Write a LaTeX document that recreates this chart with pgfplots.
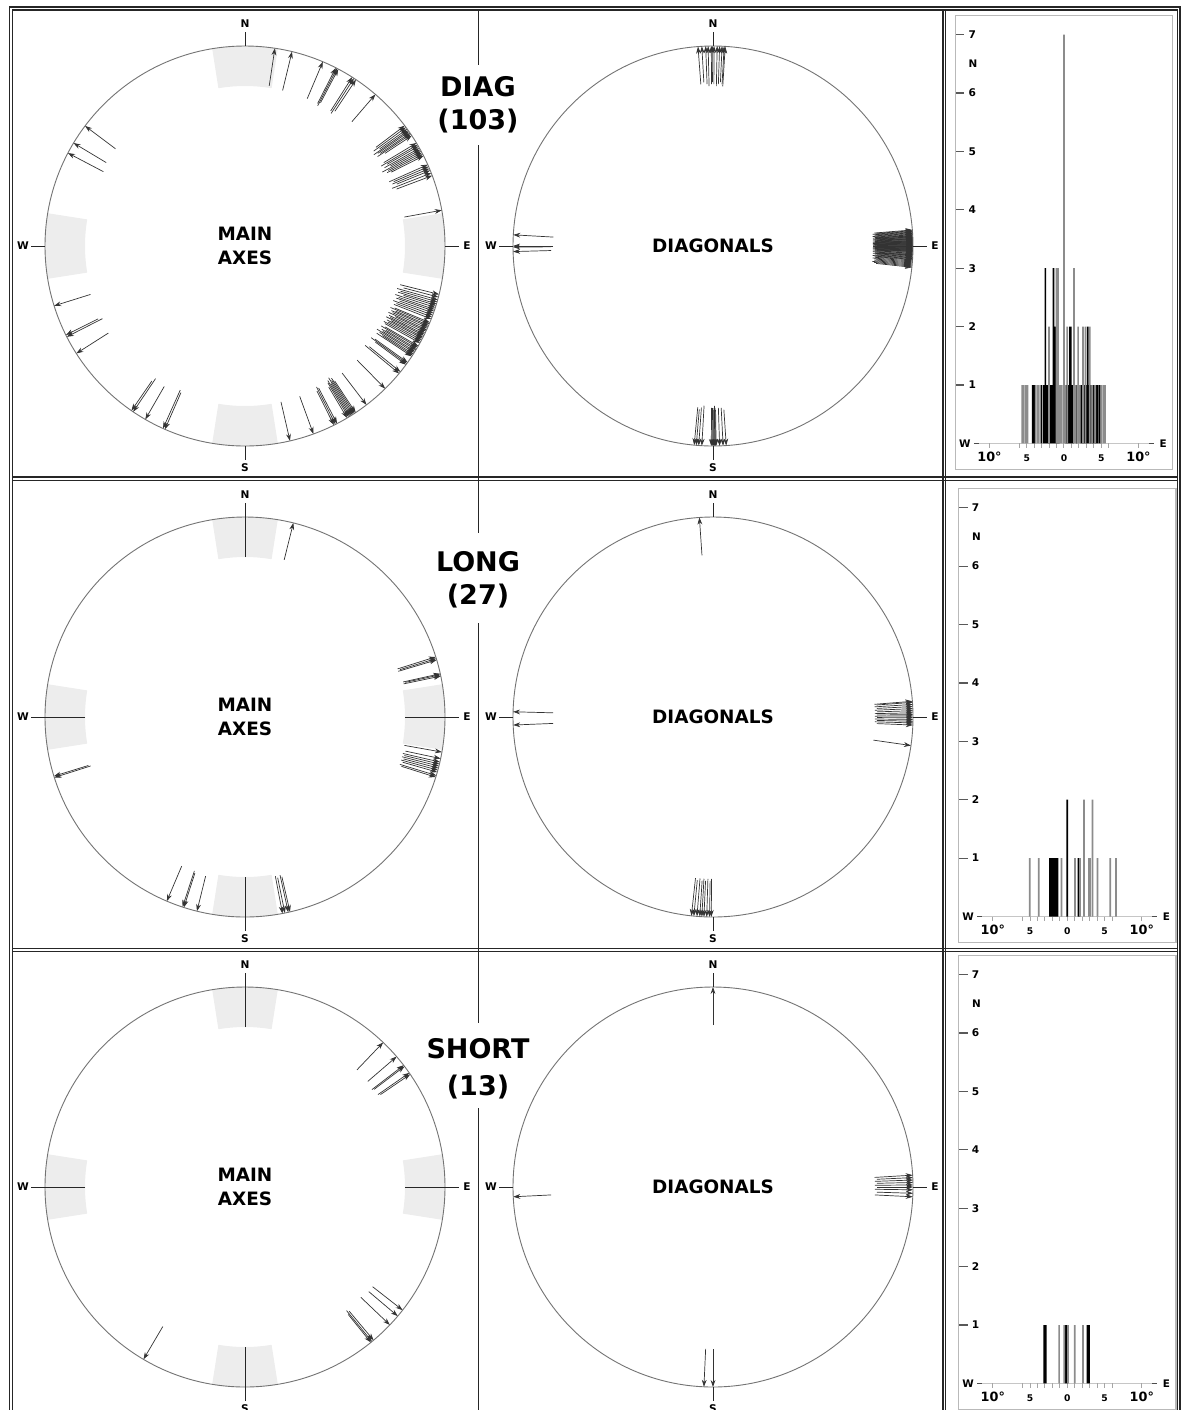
\documentclass[border=0pt]{standalone}
\usepackage{pgfplots}
\pgfplotsset{compat=1.18}
\usepackage{pgfplotstable}
\usetikzlibrary{arrows.meta}
\usepackage{fontspec}
\setmainfont{DejaVu Sans}

\newcommand{\cfont}{\fontsize{5.3}{6}\selectfont\bfseries}
\newcommand{\lfont}{\fontsize{9.2}{11}\selectfont\bfseries}
\newcommand{\tfont}{\fontsize{13.5}{16}\selectfont\bfseries}
\newcommand{\hfont}{\fontsize{5.2}{6}\selectfont\bfseries}
\newcommand{\hbig}{\fontsize{6.4}{7}\selectfont\bfseries}
\newcommand{\hsmall}{\fontsize{4.6}{5}\selectfont\bfseries}

% ---------- arrows: head angle t (deg) on the unit circle, length L ----------
\pgfplotstableread{
t L
81.4 0.19
76.4 0.20
67.1 0.20
63.0 0.20
62.6 0.21
62.2 0.19
57.6 0.20
57.0 0.21
56.3 0.19
49.3 0.18
37.0 0.18
36.4 0.20
35.8 0.17
35.3 0.21
34.9 0.19
34.4 0.18
34.0 0.20
33.5 0.16
31.0 0.19
30.4 0.21
29.9 0.18
29.3 0.20
28.8 0.17
28.3 0.22
27.8 0.19
27.3 0.20
26.8 0.18
24.0 0.21
23.4 0.19
22.8 0.20
22.2 0.18
21.4 0.21
20.6 0.19
10.3 0.19
-14.0 0.20
-14.8 0.18
-15.6 0.21
-16.2 0.19
-16.8 0.20
-17.3 0.17
-17.9 0.21
-18.5 0.19
-19.0 0.20
-19.6 0.18
-20.2 0.21
-20.8 0.19
-21.4 0.20
-22.5 0.19
-22.9 0.21
-23.4 0.18
-23.8 0.20
-24.3 0.19
-24.8 0.21
-25.2 0.17
-25.7 0.20
-26.2 0.19
-26.6 0.21
-27.1 0.18
-27.5 0.20
-28.0 0.19
-28.5 0.21
-29.0 0.20
-30.0 0.19
-30.4 0.21
-30.9 0.18
-31.3 0.20
-31.8 0.19
-32.2 0.22
-32.7 0.20
-33.1 0.18
-33.5 0.21
-35.6 0.20
-36.0 0.22
-36.4 0.19
-39.0 0.20
-39.6 0.22
-45.5 0.20
-52.6 0.20
-56.4 0.19
-56.8 0.21
-57.2 0.20
-57.6 0.22
-58.0 0.19
-58.4 0.21
-58.8 0.20
-59.3 0.18
-62.6 0.20
-63.1 0.21
-63.6 0.19
-70.0 0.20
-77.0 0.20
-113.6 0.20
-114.2 0.21
-119.9 0.19
-124.0 0.20
-124.6 0.18
-147.5 0.19
-153.0 0.20
-153.6 0.18
-162.6 0.19
152.3 0.20
149.0 0.19
143.1 0.19
}\diagmain

\pgfplotstableread{
t L
94.3 0.19
93.2 0.18
92.1 0.19
91.4 0.20
90.5 0.19
90.2 0.18
89.7 0.19
88.8 0.20
88.1 0.19
87.4 0.18
86.8 0.19
86.5 0.20
-95.4 0.19
-94.8 0.18
-94.1 0.19
-93.2 0.20
-90.5 0.19
-90.2 0.19
-89.9 0.18
-89.7 0.19
-89.5 0.20
-89.3 0.19
-89.1 0.18
-88.1 0.19
-87.1 0.19
-86.2 0.18
176.8 0.20
180.0 0.20
180.3 0.19
181.6 0.19
4.6 0.19
4.4 0.18
4.2 0.20
4.0 0.19
3.8 0.19
3.6 0.18
3.4 0.20
3.2 0.19
3.0 0.19
2.9 0.18
2.8 0.20
2.6 0.19
2.5 0.19
2.4 0.18
2.2 0.20
2.1 0.19
2.0 0.19
1.9 0.18
1.8 0.20
1.6 0.19
1.5 0.19
1.4 0.18
1.3 0.20
1.2 0.19
1.1 0.19
1.0 0.18
0.9 0.20
0.8 0.19
0.7 0.19
0.6 0.18
0.5 0.20
0.4 0.19
0.3 0.19
0.2 0.18
0.1 0.20
0.0 0.19
0.0 0.18
-0.1 0.19
-0.2 0.20
-0.3 0.19
-0.4 0.18
-0.5 0.19
-0.6 0.20
-0.7 0.19
-0.8 0.18
-0.9 0.19
-1.0 0.20
-1.1 0.19
-1.2 0.18
-1.3 0.19
-1.4 0.20
-1.5 0.19
-1.6 0.18
-1.8 0.19
-2.0 0.20
-2.2 0.19
-2.4 0.18
-2.5 0.19
-2.6 0.20
-2.8 0.19
-3.0 0.18
-3.2 0.19
-3.4 0.20
-3.6 0.19
-3.8 0.18
-4.0 0.19
-4.3 0.20
-4.6 0.19
-4.9 0.18
-5.2 0.19
-5.5 0.20
-5.8 0.19
-6.1 0.18
}\diagdiag

\pgfplotstableread{
t L
76.0 0.19
17.5 0.20
17.0 0.19
16.6 0.20
12.5 0.19
12.2 0.18
11.8 0.19
-10.1 0.19
-12.0 0.18
-13.0 0.19
-13.6 0.18
-14.2 0.19
-14.8 0.18
-15.4 0.19
-16.0 0.18
-17.0 0.19
-17.5 0.18
-162.4 0.19
-162.8 0.18
-113.0 0.19
-108.2 0.19
-107.8 0.18
-103.9 0.18
-79.2 0.19
-78.5 0.18
-77.5 0.19
-77.0 0.18
}\longmain

\pgfplotstableread{
t L
93.9 0.19
178.5 0.20
182.3 0.20
4.5 0.19
4.2 0.18
3.6 0.19
3.0 0.18
2.4 0.19
1.8 0.18
1.2 0.19
0.7 0.18
0.3 0.19
-0.2 0.18
-0.7 0.19
-1.2 0.18
-1.7 0.19
-2.3 0.18
-8.2 0.19
-96.2 0.19
-95.5 0.18
-94.6 0.19
-93.8 0.18
-93.2 0.19
-92.6 0.18
-91.8 0.19
-91.0 0.18
-90.5 0.19
}\longdiag

\pgfplotstableread{
t L
46.3 0.19
40.7 0.19
37.5 0.20
37.1 0.19
34.8 0.19
34.3 0.18
-38.0 0.19
-40.2 0.19
-43.6 0.20
-50.0 0.19
-50.6 0.20
-51.0 0.18
-120.5 0.19
}\shortmain

\pgfplotstableread{
t L
90.0 0.19
-90.0 0.19
-92.6 0.19
182.8 0.19
3.4 0.19
2.7 0.18
2.0 0.19
1.3 0.18
0.6 0.19
0.0 0.18
-0.8 0.19
-1.8 0.18
-2.8 0.19
}\shortdiag

% ---------- histograms: deviation x (deg), count n ----------
\pgfplotstableread{
x n
-4.2 1
-4.0 1
-3.0 1
-2.7 1
-2.6 1
-2.5 3
-2.4 1
-2.3 1
-2.2 1
-2.15 1
-2.05 1
-1.9 1
-1.8 1
-1.75 1
-1.7 1
-1.65 1
-1.6 1
-1.5 1
-1.4 3
-1.35 1
-1.3 2
-1.2 2
-1.1 2
-0.9 2
-0.7 1
0.3 1
0.5 1
0.6 1
0.8 2
0.9 2
1.0 1
1.1 1
1.2 1
1.7 1
2.3 1
2.4 1
2.6 1
2.7 1
3.0 1
3.2 2
3.3 1
3.6 1
3.9 1
4.0 1
4.3 1
4.5 1
4.8 1
}\diaghk
\pgfplotstableread{
x n
-5.6 1
-5.4 1
-5.1 1
-4.9 1
-3.8 1
-3.5 1
-3.2 1
-2.0 2
-1.0 3
-0.8 3
-0.6 1
-0.5 1
-0.3 1
0.0 7
0.15 1
0.45 2
1.35 3
1.6 1
1.9 2
2.1 1
2.55 2
2.9 2
3.45 2
3.8 1
4.2 1
5.0 1
5.3 1
5.5 1
}\diaghg
\pgfplotstableread{
x n
-2.34 1
-2.25 1
-2.12 1
-1.9 1
-1.76 1
-1.65 1
-1.53 1
-1.4 1
-1.31 1
0.0 2
1.49 1
1.6 1
}\longhk
\pgfplotstableread{
x n
-5.05 1
-3.83 1
-0.77 1
1.04 1
1.71 1
2.25 2
2.9 1
3.06 1
3.38 2
4.05 1
5.77 1
6.53 1
}\longhg
\pgfplotstableread{
x n
-3.1 1
-3.0 1
-2.9 1
-0.2 1
0.0 1
2.7 1
2.8 1
2.9 1
}\shorthk
\pgfplotstableread{
x n
-1.1 1
-0.4 1
0.1 1
1.0 1
2.1 1
}\shorthg

\pgfplotsset{
  compass/.style={width=250pt,height=250pt,scale only axis,
    xmin=-1.25,xmax=1.25,ymin=-1.25,ymax=1.25,hide axis,anchor=center,clip=false},
  arr/.style={black!80,line width=0.35pt,
    quiver={u={\thisrow{L}*cos(\thisrow{t})},v={\thisrow{L}*sin(\thisrow{t})},
      every arrow/.append style={-{Stealth[length=3.5pt,width=2.4pt]}}}},
  hist/.style={width=108.77pt,height=226.88pt,scale only axis,
    xmin=-14.6,xmax=14.6,ymin=-0.44,ymax=7.33,anchor=south west,clip=false,
    axis line style={gray!55,line width=0.6pt},xtick=\empty,ytick={1,...,7},
    ytick pos=left,tick align=inside,major tick length=4.5pt,
    every tick/.style={black!65,line width=0.6pt},
    /pgf/number format/assume math mode=true,
    yticklabel style={anchor=center,xshift=8.5pt,font=\cfont}},
  kbar/.style={ybar,bar width=0.85pt,bar shift=0pt,fill=black,draw=none},
  gbar/.style={ybar,bar width=0.85pt,bar shift=0pt,fill=black!45,draw=none},
}

\newcommand{\compass}[1]{%
  \draw[black!55,line width=0.45pt] (axis cs:0,0) circle[radius=100pt];
  \draw[black!85,line width=0.5pt] (axis cs:0,#1) -- (axis cs:0,1.07)
     (axis cs:0,-#1) -- (axis cs:0,-1.07)
     (axis cs:#1,0) -- (axis cs:1.07,0)
     (axis cs:-#1,0) -- (axis cs:-1.07,0);
  \node[font=\cfont] at (axis cs:0,1.11) {N};
  \node[font=\cfont] at (axis cs:0,-1.11) {S};
  \node[font=\cfont] at (axis cs:1.11,0) {E};
  \node[font=\cfont] at (axis cs:-1.11,0) {W};}
\newcommand{\sectors}{%
  \pgfplotsinvokeforeach{0,90,180,270}{\draw[gray!14,line width=20pt]
    (axis cs:{0.9*cos(##1-9.5)},{0.9*sin(##1-9.5)})
    arc[start angle=##1-9.5,end angle=##1+9.5,radius=90pt];}}
\newcommand{\mainlabel}{%
  \node[font=\lfont,anchor=base,yshift=3pt] at (axis cs:0,0) {MAIN};
  \node[font=\lfont,anchor=base,yshift=-9pt] at (axis cs:0,0) {AXES};}
\newcommand{\diaglabel}{%
  \node[font=\lfont,anchor=base,yshift=-3.15pt] at (axis cs:0,0) {DIAGONALS};}
\newcommand{\histdeco}{%
  \draw[gray!45,line width=0.6pt] (axis cs:-11.5,0) -- (axis cs:11.5,0);
  \draw[black!70,line width=0.7pt] (axis cs:-12.1,0) -- (axis cs:-11.4,0)
     (axis cs:11.4,0) -- (axis cs:12.1,0);
  \pgfplotsinvokeforeach{-10,-6,-5,-4,-3,-2,-1,0,1,2,3,4,5,6,10}{%
    \draw[gray!70,line width=0.5pt] (axis cs:##1,0) -- ++(0pt,-2.2pt);}
  \node[font=\hfont] at (axis cs:-13.3,0) {W};
  \node[font=\hfont] at (axis cs:13.3,0) {E};
  \node[font=\hfont] at (axis cs:-12.2,6.5) {N};
  \node[font=\hbig,yshift=-6.5pt] at (axis cs:-10,0) {10°};
  \node[font=\hbig,yshift=-6.5pt] at (axis cs:10,0) {10°};
  \node[font=\hsmall,yshift=-7.5pt] at (axis cs:-5,0) {5};
  \node[font=\hsmall,yshift=-7.5pt] at (axis cs:0,0) {0};
  \node[font=\hsmall,yshift=-7.5pt] at (axis cs:5,0) {5};}

\begin{document}
\begin{tikzpicture}
\useasboundingbox (0,0) rectangle (590.5pt,-705pt);
\clip (0,0) rectangle (590.5pt,-705pt);

% ---------- frame lines and titles (pixel grid, 1px = 0.5pt) ----------
\begin{scope}[x=0.5pt,y=-0.5pt]
  \begin{scope}[black!85,line width=0.55pt]
    \draw (9.5,1420) -- (9.5,7) -- (1180,7) -- (1180,1420);
    \draw (12.5,1420) -- (12.5,10) -- (1177.5,10) -- (1177.5,1420);
    \draw (12.5,477) -- (1177.5,477) (12.5,480.5) -- (1177.5,480.5);
    \draw (12.5,948.5) -- (1177.5,948.5) (12.5,951.5) -- (1177.5,951.5);
    \draw (943,10) -- (943,1420) (945.5,10) -- (945.5,1420);
  \end{scope}
  \draw[black!85,line width=0.8pt] (478.5,10) -- (478.5,65) (478.5,145) -- (478.5,533)
     (478.5,623) -- (478.5,1023) (478.5,1108) -- (478.5,1420);
  \node[font=\tfont,anchor=base] at (478,96.5) {DIAG};
  \node[font=\tfont,anchor=base] at (478,129) {(103)};
  \node[font=\tfont,anchor=base] at (478,571.5) {LONG};
  \node[font=\tfont,anchor=base] at (478,604.5) {(27)};
  \node[font=\tfont,anchor=base] at (478,1058) {SHORT};
  \node[font=\tfont,anchor=base] at (478,1095) {(13)};
\end{scope}

% ---------- row 1: DIAG ----------
\begin{axis}[compass,at={(122.5pt,-123pt)}]
  \sectors
  \compass{1.0}
  \mainlabel
  \addplot[arr] table[x expr={(1-\thisrow{L})*cos(\thisrow{t})},
                      y expr={(1-\thisrow{L})*sin(\thisrow{t})}] {\diagmain};
\end{axis}
\begin{axis}[compass,at={(356.5pt,-123pt)}]
  \compass{1.0}
  \diaglabel
  \addplot[arr] table[x expr={(1-\thisrow{L})*cos(\thisrow{t})},
                      y expr={(1-\thisrow{L})*sin(\thisrow{t})}] {\diagdiag};
\end{axis}
\begin{axis}[hist,at={(477.6pt,-234.55pt)}]
  \histdeco
  \addplot[kbar] table[x=x,y=n] {\diaghk};
  \addplot[gbar] table[x=x,y=n] {\diaghg};
\end{axis}

% ---------- row 2: LONG ----------
\begin{axis}[compass,at={(122.5pt,-358.5pt)}]
  \sectors
  \compass{0.8}
  \mainlabel
  \addplot[arr] table[x expr={(1-\thisrow{L})*cos(\thisrow{t})},
                      y expr={(1-\thisrow{L})*sin(\thisrow{t})}] {\longmain};
\end{axis}
\begin{axis}[compass,at={(356.5pt,-358.5pt)}]
  \compass{1.0}
  \diaglabel
  \addplot[arr] table[x expr={(1-\thisrow{L})*cos(\thisrow{t})},
                      y expr={(1-\thisrow{L})*sin(\thisrow{t})}] {\longdiag};
\end{axis}
\begin{axis}[hist,at={(479.27pt,-471.1pt)}]
  \histdeco
  \addplot[kbar] table[x=x,y=n] {\longhk};
  \addplot[gbar] table[x=x,y=n] {\longhg};
\end{axis}

% ---------- row 3: SHORT ----------
\begin{axis}[compass,at={(122.5pt,-593.5pt)}]
  \sectors
  \compass{0.8}
  \mainlabel
  \addplot[arr] table[x expr={(1-\thisrow{L})*cos(\thisrow{t})},
                      y expr={(1-\thisrow{L})*sin(\thisrow{t})}] {\shortmain};
\end{axis}
\begin{axis}[compass,at={(356.5pt,-593.5pt)}]
  \compass{1.0}
  \diaglabel
  \addplot[arr] table[x expr={(1-\thisrow{L})*cos(\thisrow{t})},
                      y expr={(1-\thisrow{L})*sin(\thisrow{t})}] {\shortdiag};
\end{axis}
\begin{axis}[hist,at={(479.27pt,-704.55pt)}]
  \histdeco
  \addplot[kbar] table[x=x,y=n] {\shorthk};
  \addplot[gbar] table[x=x,y=n] {\shorthg};
\end{axis}
\end{tikzpicture}
\end{document}
